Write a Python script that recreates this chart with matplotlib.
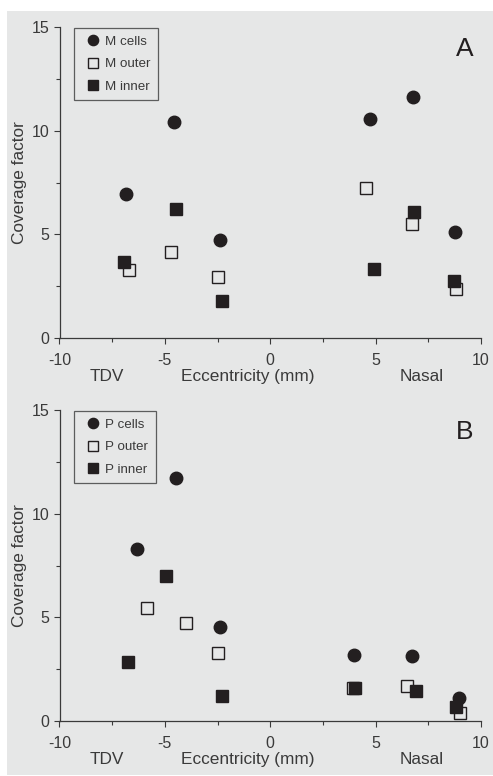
import matplotlib
matplotlib.use("Agg")
import matplotlib.pyplot as plt
from matplotlib.ticker import MultipleLocator

# ---- data ----
m_cells_x = [-6.84, -4.58, -2.38, 4.72, 6.77, 8.77]
m_cells_y = [6.93, 10.40, 4.74, 10.56, 11.62, 5.13]
m_outer_x = [-6.70, -4.69, -2.47, 4.53, 6.73, 8.81]
m_outer_y = [3.30, 4.13, 2.94, 7.22, 5.50, 2.36]
m_inner_x = [-6.96, -4.48, -2.28, 4.91, 6.81, 8.72]
m_inner_y = [3.65, 6.24, 1.80, 3.33, 6.09, 2.77]

p_cells_x = [-6.32, -4.47, -2.38, 3.98, 6.74, 8.94]
p_cells_y = [8.30, 11.74, 4.53, 3.17, 3.15, 1.13]
p_outer_x = [-5.86, -3.98, -2.46, 3.91, 6.51, 9.02]
p_outer_y = [5.45, 4.73, 3.30, 1.58, 1.70, 0.40]
p_inner_x = [-6.77, -4.96, -2.27, 4.04, 6.93, 8.81]
p_inner_y = [2.83, 6.98, 1.22, 1.59, 1.45, 0.68]

x_ticks = [-10, -5, 0, 5, 10]
y_ticks = [0, 5, 10, 15]

plt.rcParams['font.family'] = ['Liberation Sans', 'DejaVu Sans']

BG = '#e6e7e7'
INK = '#231f20'
TXT = '#3a3a3a'

W, H = 493, 776
fig = plt.figure(figsize=(W / 100, H / 100), dpi=100)
fig.patch.set_facecolor('white')

bg = fig.add_axes([7 / W, 1 / H, 1 - 7 / W, (765 - 1) / H], zorder=-10)
bg.set_facecolor(BG)
bg.set_xticks([])
bg.set_yticks([])
for s in bg.spines.values():
    s.set_visible(False)


def make_ax(top_px, bot_px):
    left = 59.5 / W
    right = 481 / W
    return fig.add_axes([left, (H - bot_px) / H, right - left, (bot_px - top_px) / H])


panels = [
    (27, 338, 'M', 'A', (m_cells_x, m_cells_y), (m_outer_x, m_outer_y), (m_inner_x, m_inner_y)),
    (410, 721, 'P', 'B', (p_cells_x, p_cells_y), (p_outer_x, p_outer_y), (p_inner_x, p_inner_y)),
]

ms = 9.0
for top, bot, pre, letter, cells, outer, inner in panels:
    ax = make_ax(top, bot)
    ax.patch.set_alpha(0)
    ax.plot(cells[0], cells[1], 'o', ms=ms, color=INK, mec=INK, label=f'{pre} cells', zorder=3, clip_on=False)
    ax.plot(outer[0], outer[1], 's', ms=ms - 0.6, mfc=BG, mec=INK, mew=1.0, label=f'{pre} outer', zorder=4, clip_on=False)
    ax.plot(inner[0], inner[1], 's', ms=ms, color=INK, mec=INK, label=f'{pre} inner', zorder=5, clip_on=False)
    ax.set_xlim(-10, 10)
    ax.set_ylim(0, 15)
    ax.set_xticks(x_ticks)
    ax.set_xticklabels([str(v) for v in x_ticks])
    ax.set_yticks(y_ticks)
    ax.xaxis.set_minor_locator(MultipleLocator(2.5))
    ax.yaxis.set_minor_locator(MultipleLocator(2.5))
    for s in ['top', 'right']:
        ax.spines[s].set_visible(False)
    for s in ['left', 'bottom']:
        ax.spines[s].set_color(TXT)
        ax.spines[s].set_linewidth(0.9)
    ax.tick_params(which='major', length=4, width=0.8, color=TXT, labelsize=11.5,
                   labelcolor=TXT)
    ax.tick_params(which='minor', length=3, width=0.8, color=TXT)
    ax.tick_params(axis='x', which='major', pad=7)
    ax.tick_params(axis='y', which='major', pad=3.5)
    ax.set_ylabel('Coverage factor', fontsize=12.4, color=TXT, labelpad=3)
    xt = ax.get_xaxis_transform()
    ax.text(-7.75, -0.125, 'TDV', transform=xt, fontsize=12.4, color=TXT, ha='center', va='center')
    ax.text(-1.06, -0.125, 'Eccentricity (mm)', transform=xt, fontsize=12.4, color=TXT,
            ha='center', va='center')
    ax.text(7.2, -0.125, 'Nasal', transform=xt, fontsize=12.4, color=TXT, ha='center', va='center')
    ax.text(0.962, 0.93, letter, transform=ax.transAxes, fontsize=19, color=INK,
            ha='center', va='center')
    leg = ax.legend(loc='upper left', bbox_to_anchor=(0.034, 0.997), borderaxespad=0,
                    frameon=True, fancybox=False, fontsize=9.6, labelspacing=0.74,
                    handletextpad=0.05, borderpad=0.59, handlelength=1.68, markerscale=0.82)
    leg.get_frame().set_edgecolor(TXT)
    leg.get_frame().set_facecolor(BG)
    leg.get_frame().set_linewidth(0.9)
    for t in leg.get_texts():
        t.set_color(TXT)

fig.savefig('out.png', dpi=100)
